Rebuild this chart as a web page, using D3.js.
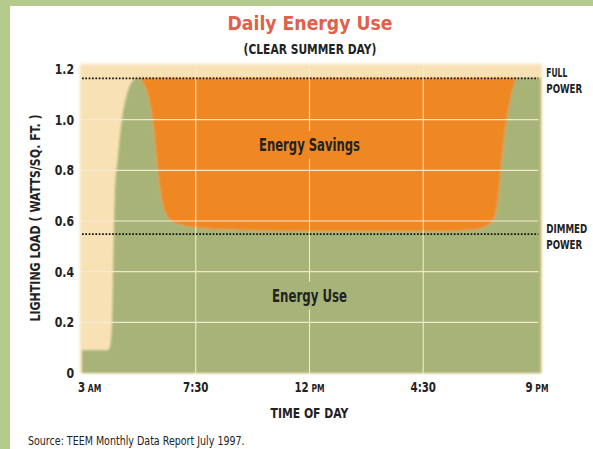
<!DOCTYPE html>
<html><head><meta charset="utf-8">
<script src="https://cdn.jsdelivr.net/npm/d3@7"></script>
<style>
body{margin:0;background:#fff;}
svg{display:block;}
text{font-family:"DejaVu Sans",sans-serif;}
</style></head>
<body>
<svg id="c" width="593" height="449"></svg>
<script>
// ---- data ----
const hours = [3, 4.0, 4.1, 4.19, 4.25, 4.3, 4.42, 4.58, 4.78, 4.98, 5.2, 5.45, 5.69, 5.85, 5.97, 6.09, 6.24, 6.48, 6.88, 7.67, 9, 12, 15, 17.5, 18.5, 19.0, 19.3, 19.45, 19.55, 19.65, 19.8, 19.95, 20.15, 21.15];
const energyUse = [0.09, 0.09, 0.10, 0.2, 0.5, 0.7, 0.85, 1.0, 1.1, 1.15, 1.165, 1.14, 1.06, 0.95, 0.82, 0.72, 0.65, 0.605, 0.585, 0.572, 0.565, 0.56, 0.56, 0.56, 0.565, 0.58, 0.61, 0.68, 0.78, 0.88, 1.0, 1.08, 1.163, 1.163];
const fullPower = 1.163;
const dimmedPower = 0.548;
const yTicks = [0, 0.2, 0.4, 0.6, 0.8, 1.0, 1.2];
const yTickLabels = ["0", "0.2", "0.4", "0.6", "0.8", "1.0", "1.2"];
const xTicks = [3, 7.5, 12, 16.5, 21];
const xTickMain = ["3", "7:30", "12", "4:30", "9"];
const xTickSuffix = ["AM", "", "PM", "", "PM"];
const gridY = [0.2, 0.4, 0.6, 0.8, 1.0];
const gridX = [7.5, 12, 16.5];

const svg = d3.select("#c");
const x = d3.scaleLinear().domain([3, 21]).range([82, 537]);
const y = d3.scaleLinear().domain([0, 1.2]).range([373, 69]);

const C = {border:"#b5ca8d", beige:"#f8e1b5", green:"#a8b477", orange:"#ef8820", title:"#e0604a", text:"#222"};

// horizontal condensing helpers (the reference uses a condensed face)
function squeeze(sel, s){
  sel.each(function(){
    const t = d3.select(this), ax = +t.attr("x");
    const prev = t.attr("transform") || "";
    t.attr("transform", `translate(${ax},0) scale(${s},1) translate(${-ax},0) ` + prev);
  });
  return sel;
}
function fitW(sel, w){
  const bw = sel.node().getComputedTextLength();
  return squeeze(sel, w / bw);
}

// frame
svg.append("rect").attr("x",0).attr("y",0).attr("width",593).attr("height",449).attr("fill",C.border);
svg.append("rect").attr("x",10).attr("y",6).attr("width",583).attr("height",443).attr("fill","#fff");

const defs = svg.append("defs");
defs.append("filter").attr("id","soft").attr("x","-5%").attr("y","-5%").attr("width","110%").attr("height","110%")
  .append("feGaussianBlur").attr("stdDeviation",1.6);
defs.append("filter").attr("id","soft2").attr("x","-5%").attr("y","-5%").attr("width","110%").attr("height","110%")
  .append("feGaussianBlur").attr("stdDeviation",0.9);

// plot background (beige)
svg.append("rect")
  .attr("x", x(2.92)).attr("y", y(1.22))
  .attr("width", x(21.2) - x(2.92)).attr("height", y(0) - y(1.22))
  .attr("fill", C.beige).attr("filter","url(#soft)");

const data = hours.map((h,i)=>({h, v: energyUse[i]}));
const g = svg.append("g").attr("filter","url(#soft2)");

// energy use (green)
g.append("path").datum(data)
  .attr("fill", C.green)
  .attr("d", d3.area().x(d=>x(d.h)).y0(y(0)).y1(d=>y(d.v)).curve(d3.curveMonotoneX));

// energy savings (orange): between use curve and full power, right of the morning peak
let peakIdx = 0;
energyUse.forEach((v,i)=>{ if (hours[i] < 8 && v > energyUse[peakIdx]) peakIdx = i; });
let endIdx = energyUse.findIndex((v,i)=> i > peakIdx + 3 && v >= fullPower);
const sav = data.slice(peakIdx, endIdx + 1);
g.append("path").datum(sav)
  .attr("fill", C.orange)
  .attr("d", d3.area().x(d=>x(d.h)).y0(y(fullPower)).y1(d=>y(d.v)).curve(d3.curveMonotoneX));

// labels inside
const labSav = svg.append("text").attr("x", x(12)).attr("y", y(0.875))
  .attr("text-anchor","middle").attr("font-weight","bold").attr("font-size",17).attr("fill",C.text)
  .text("Energy Savings");
fitW(labSav, 101);
const labUse = svg.append("text").attr("x", x(12)).attr("y", y(0.28))
  .attr("text-anchor","middle").attr("font-weight","bold").attr("font-size",17).attr("fill",C.text)
  .text("Energy Use");
fitW(labUse, 75);

// mask for gridlines around labels
const mask = defs.append("mask").attr("id","gm");
mask.append("rect").attr("x",0).attr("y",0).attr("width",593).attr("height",449).attr("fill","#fff");
[[labSav,101],[labUse,75]].forEach(([t,w])=>{
  const b = t.node().getBBox();
  const cx = +t.attr("x");
  mask.append("rect").attr("x",cx - w/2 - 3).attr("y",b.y-4).attr("width",w+6).attr("height",b.height+8).attr("fill","#000");
});

// gridlines
const grid = svg.append("g").attr("mask","url(#gm)").attr("stroke","#f3ecd6").attr("stroke-width",1.1).attr("opacity",0.95);
grid.selectAll("line.h").data(gridY).join("line")
  .attr("x1", x(2.92)).attr("x2", x(21.05)).attr("y1", d=>y(d)).attr("y2", d=>y(d));
grid.selectAll("line.v").data(gridX).join("line")
  .attr("x1", d=>x(d)).attr("x2", d=>x(d)).attr("y1", y(1.215)).attr("y2", y(0)+2);

// dotted reference lines
[fullPower, dimmedPower].forEach(v=>{
  svg.append("line").attr("x1", x(3)).attr("x2", x(21.05)).attr("y1", y(v)).attr("y2", y(v))
    .attr("stroke","#111").attr("stroke-width",1.8).attr("stroke-dasharray","1.7,1.65");
});

// right labels
const rl = [{v: fullPower, a:"FULL", b:"POWER", wa:21, wb:36}, {v: dimmedPower, a:"DIMMED", b:"POWER", wa:41, wb:36}];
rl.forEach(r=>{
  const lx = x(21.05)+8;
  fitW(svg.append("text").attr("x", lx).attr("y", y(r.v)-1)
    .attr("font-weight","bold").attr("font-size",12).attr("fill",C.text).text(r.a), r.wa);
  fitW(svg.append("text").attr("x", lx).attr("y", y(r.v)+15)
    .attr("font-weight","bold").attr("font-size",12).attr("fill",C.text).text(r.b), r.wb);
});

// y axis labels
squeeze(svg.append("g").selectAll("text").data(yTicks).join("text")
  .attr("x", 74).attr("y", d=>y(d)).attr("dy","0.36em")
  .attr("text-anchor","end").attr("font-weight","bold").attr("font-size",14).attr("fill",C.text)
  .text((d,i)=>yTickLabels[i]), 0.78);

// x axis labels
const xl = svg.append("g").selectAll("text").data(xTicks).join("text")
  .attr("x", (d,i)=> i===0 ? x(d)-4 : x(d)).attr("y", 392)
  .attr("text-anchor",(d,i)=> i===0 ? "start" : "middle")
  .attr("font-weight","bold").attr("font-size",13.5).attr("fill",C.text);
xl.append("tspan").text((d,i)=>xTickMain[i]);
xl.append("tspan").attr("font-size",10).text((d,i)=> xTickSuffix[i] ? " " + xTickSuffix[i] : "");
squeeze(xl, 0.76);

// axis titles
svg.append("text").attr("transform","translate(40,218) rotate(-90)")
  .attr("text-anchor","middle").attr("font-weight","bold").attr("font-size",13.5).attr("fill",C.text)
  .attr("textLength",207).attr("lengthAdjust","spacingAndGlyphs")
  .text("LIGHTING LOAD  ( WATTS/SQ. FT. )");
fitW(svg.append("text").attr("x", x(12)).attr("y", 418)
  .attr("text-anchor","middle").attr("font-weight","bold").attr("font-size",14).attr("fill",C.text)
  .text("TIME OF DAY"), 78);

// titles
fitW(svg.append("text").attr("x", 310).attr("y", 30)
  .attr("text-anchor","middle").attr("font-weight","bold").attr("font-size",19).attr("fill",C.title)
  .text("Daily Energy Use"), 165);
fitW(svg.append("text").attr("x", 310).attr("y", 54)
  .attr("text-anchor","middle").attr("font-weight","bold").attr("font-size",14.5).attr("fill",C.text)
  .text("(CLEAR SUMMER DAY)"), 133);

// source
fitW(svg.append("text").attr("x", 28).attr("y", 445)
  .attr("font-size",13).attr("fill",C.text)
  .text("Source: TEEM Monthly Data Report July 1997."), 217);
</script>
</body></html>
